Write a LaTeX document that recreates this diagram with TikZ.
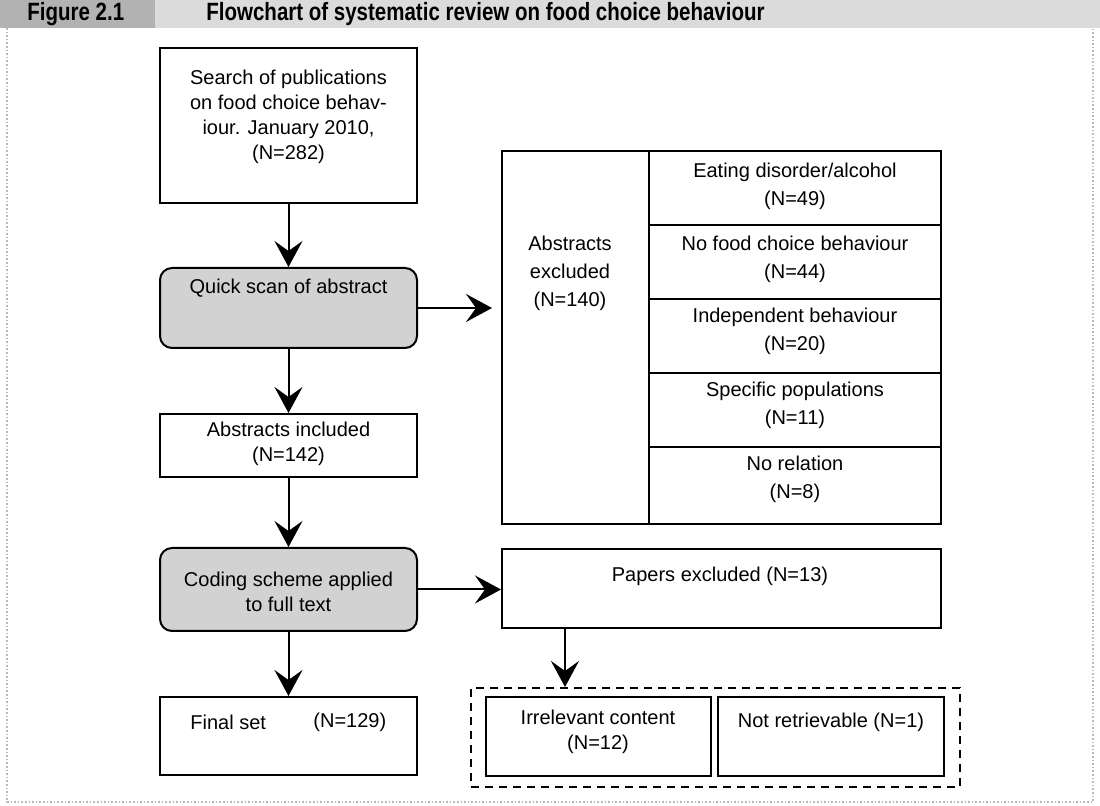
\documentclass[tikz,border=0pt]{standalone}
\usepackage{fontspec}
\setmainfont{Liberation Sans}
\newfontfamily\titlefont[FakeStretch=0.82]{Liberation Sans}
\usetikzlibrary{arrows.meta,fit}
\begin{document}
\begin{tikzpicture}[x=0.5pt,y=-0.5pt,
  box/.style={draw, line width=1pt, inner sep=0pt},
  gbox/.style={draw, line width=1pt, inner sep=0pt, fill=gray!35, rounded corners=6pt},
  txt/.style={font=\fontsize{10}{12.5}\selectfont, align=center, inner sep=0pt},
  rtxt/.style={font=\fontsize{10}{14}\selectfont, align=center, inner sep=0pt},
  arr/.style={line width=1pt, -{Stealth[length=13pt,width=14pt,inset=5pt]}},
  ttl/.style={font=\titlefont\bfseries\fontsize{12.5}{14}\selectfont, inner sep=0pt, anchor=west}]
\useasboundingbox (0,0) rectangle (1100,806);
% title band
\fill[gray!60] (0,0) rectangle (155,28);
\fill[gray!28] (155,0) rectangle (1100,28);
\draw[gray!55, densely dotted, line width=0.8pt] (7,28) -- (7,802) -- (1093,802) -- (1093,28);
\node[ttl] (fig) at (27,14) {Figure 2.1};
\node[ttl] (title) at (206,14) {Flowchart of systematic review on food choice behaviour};

% left column
\node[box, fit={(160,48)(417,203)}] (search) {};
\node[txt] (searchT) at (288.5,117) {Search of publications\\on food choice behav-\\iour. January 2010,\\(N=282)};
\node[gbox, fit={(160,268)(417,348)}] (quick) {};
\node[txt] (quickT) at (288.5,288) {Quick scan of abstract};
\node[box, fit={(160,414)(417,477)}] (incl) {};
\node[txt] (inclT) at (288.5,444) {Abstracts included\\(N=142)};
\node[gbox, fit={(160,548)(417,631)}] (coding) {};
\node[txt] (codingT) at (288.5,592) {Coding scheme applied\\to full text};
\node[box, fit={(160,697)(417,775)}] (final) {};
\node[txt, anchor=west] (finalT) at (190,722) {Final set};
\node[txt, anchor=west] (finalN) at (313,722) {(N=129)};

% excluded abstracts table
\node[box, fit={(502,151)(941,524)}] (tbl) {};
\draw[line width=1pt] (649,151) -- (649,524);
\foreach \yy in {225,299,373,447} \draw[line width=1pt] (649,\yy) -- (941,\yy);
\node[rtxt] (exT) at (570,273) {Abstracts\\excluded\\(N=140)};
\node[rtxt] (r1) at (795,186) {Eating disorder/alcohol\\(N=49)};
\node[rtxt] (r2) at (795,259) {No food choice behaviour\\(N=44)};
\node[rtxt] (r3) at (795,331) {Independent behaviour\\(N=20)};
\node[rtxt] (r4) at (795,405) {Specific populations\\(N=11)};
\node[rtxt] (r5) at (795,479) {No relation\\(N=8)};

% papers excluded
\node[box, fit={(502,549)(941,628)}] (papers) {};
\node[txt] (papersT) at (720,576) {Papers excluded (N=13)};
\node[draw, line width=1pt, dash pattern=on 4pt off 3pt, inner sep=0pt, fit={(471,688)(960,787)}] (dash) {};
\node[box, fit={(486,697)(711,776)}] (irr) {};
\node[txt] (irrT) at (598,732) {Irrelevant content\\(N=12)};
\node[box, fit={(718,697)(944,776)}] (notr) {};
\node[txt] (notrT) at (831,722) {Not retrievable (N=1)};

% arrows
\draw[arr] (search.south) -- (quick.north);
\draw[arr] (quick.south) -- (incl.north);
\draw[arr] (incl.south) -- (coding.north);
\draw[arr] (coding.south) -- (final.north);
\draw[arr, shorten >=4.5pt] (quick.east) -- (quick.east -| tbl.west);
\draw[arr] (coding.east) -- (coding.east -| papers.west);
\coordinate (pd) at ([xshift=32pt]papers.south west);
\draw[arr] (pd) -- (pd |- dash.north);
\end{tikzpicture}
\end{document}
